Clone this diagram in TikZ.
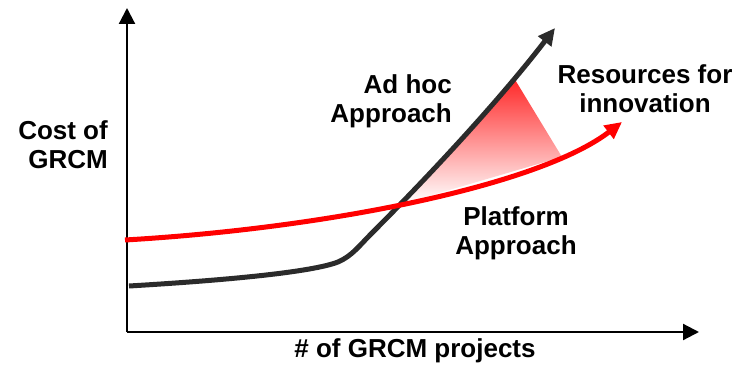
\documentclass[tikz,border=0pt]{standalone}
\usepackage{fontspec}
\setmainfont{Liberation Sans}
\usetikzlibrary{arrows.meta}
\begin{document}
\begin{tikzpicture}[x=1pt,y=-1pt,
		rotulo/.style={font=\bfseries\fontsize{26}{29}\selectfont, inner sep=0pt},
		eixo/.style={line width=2.2pt, -{Triangle[length=16pt,width=16pt]}},
		curva/.style={line width=5pt, -{Triangle[length=17pt,width=16pt]}}]
		\useasboundingbox (0,0) rectangle (747,369);					% Margens
		
		% Eixos
		\coordinate (O) at (127,332);									% Origem
		\coordinate (ytip) at (127,8);
		\coordinate (xtip) at (699,332);
		\draw[eixo] (O) -- (ytip);										% Eixo do custo
		\draw[eixo] (O) -- (xtip);										% Eixo dos projetos
		
		% Área sombreada
		\coordinate (s1) at (514,78);
		\coordinate (s2) at (562,157);
		\coordinate (s3) at (405,203);
		\shade[top color=red!85, bottom color=white] (s1) -- (s2) -- (s3) -- cycle;
		
		% Curvas
		\coordinate (p0) at (125,240);									% Início plataforma
		\coordinate (p1) at (622,122);									% Fim plataforma
		\coordinate (a0) at (129,286);									% Início ad hoc
		\coordinate (a1) at (555,28);									% Fim ad hoc
		\draw[curva, black!83] (a0) .. controls (230,280) and (312,272) .. (338,262)
			.. controls (352,256) and (360,245) .. (370,235)
			.. controls (420,185) and (495,106) .. (a1);
		\draw[curva, red] (p0) .. controls (330,228) and (540,185) .. (p1);
		
		% Rótulos (base = última linha)
		\node[rotulo, align=right, anchor=base east] (custo) at (108,168) {Cost of\\GRCM};
		\node[rotulo, anchor=base] (projetos) at (415,357) {\# of GRCM projects};
		\node[rotulo, align=right, anchor=base east] (adhoc) at (452,122) {Ad hoc\\Approach};
		\node[rotulo, align=center, anchor=base] (recursos) at (645,112) {Resources for\\innovation};
		\node[rotulo, align=center, anchor=base] (plataforma) at (516,254) {Platform\\Approach};
	\end{tikzpicture}
\end{document}
